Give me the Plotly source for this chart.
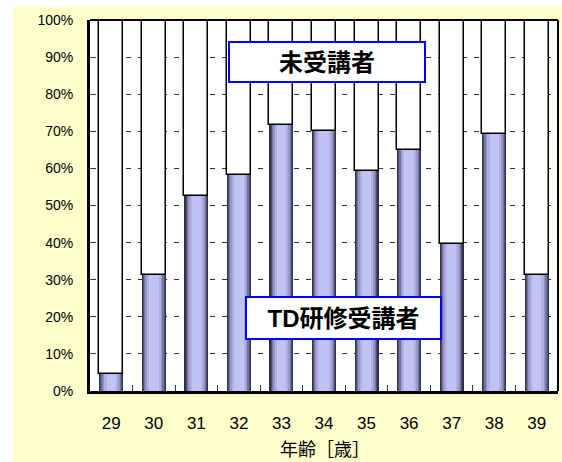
import plotly.graph_objects as go

ages = ["29", "30", "31", "32", "33", "34", "35", "36", "37", "38", "39"]
td_pct = [4.5, 31.3, 52.6, 58.3, 71.8, 70.0, 59.3, 65.0, 39.6, 69.2, 31.3]
untaken_pct = [100 - v for v in td_pct]
y_ticks = [0, 10, 20, 30, 40, 50, 60, 70, 80, 90, 100]
y_tick_labels = [f"{v}%" for v in y_ticks]
label_untaken = "未受講者"
label_td = "TD研修受講者"
x_title = "年齢［歳］"

FONT = "Liberation Sans, Arial, Noto Sans CJK JP, sans-serif"

fig = go.Figure()

# white (untaken) part
fig.add_trace(go.Bar(x=ages, y=untaken_pct, base=td_pct, width=0.565,
                     marker=dict(color="white", line=dict(color="black", width=1.5)),
                     showlegend=False, hoverinfo="skip"))

# TD part: layered to imitate cylinder shading
layers = [(0.565, "#2e2e44"), (0.51, "#505070"), (0.46, "#7474a0"),
          (0.40, "#9898c8"), (0.32, "#b0b0e2"), (0.22, "#c2c2f4")]
for w, c in layers:
    fig.add_trace(go.Bar(x=ages, y=td_pct, base=0, width=w,
                         marker=dict(color=c, line=dict(width=0)),
                         showlegend=False, hoverinfo="skip"))

L, R, T, B = 90, 4, 20, 71
W, H = 562, 462
pw, ph = W - L - R, H - T - B

def px_x(px):
    return (px - L) / pw

def px_y(py):
    return (H - B - py) / ph

shapes = [
    dict(type="rect", xref="paper", yref="paper", x0=px_x(13), x1=px_x(563),
         y0=px_y(463), y1=px_y(6), fillcolor="#FFFFCC", line=dict(width=0), layer="below"),
    dict(type="rect", xref="paper", yref="paper", x0=0, x1=1, y0=0, y1=1,
         fillcolor="white", line=dict(width=0), layer="below"),
    dict(type="line", xref="paper", yref="paper", x0=0, x1=1, y0=1, y1=1,
         line=dict(color="black", width=2)),
    dict(type="line", xref="paper", yref="paper", x0=1, x1=1, y0=0, y1=1,
         line=dict(color="black", width=2)),
]

annotations = [
    dict(text="<b>" + label_untaken + "</b>", xref="paper", yref="y",
         x=px_x(327), y=88.7, showarrow=False, width=194, height=38,
         bgcolor="white", bordercolor="#0000FF", borderwidth=2, borderpad=0,
         font=dict(family=FONT, size=24, color="black")),
    dict(text="<b>" + label_td + "</b>", xref="paper", yref="y",
         x=px_x(343.5), y=19.7, showarrow=False, width=193, height=40,
         bgcolor="white", bordercolor="#0000FF", borderwidth=2, borderpad=0,
         font=dict(family=FONT, size=24, color="black")),
    dict(text=x_title, xref="paper", yref="paper", x=px_x(325), y=px_y(450),
         xanchor="center", yanchor="middle",
         showarrow=False, font=dict(family=FONT, size=18, color="black")),
]

fig.update_layout(
    width=W, height=H,
    margin=dict(l=L, r=R, t=T, b=B),
    paper_bgcolor="white", plot_bgcolor="white",
    barmode="overlay", bargap=0,
    shapes=shapes, annotations=annotations,
    font=dict(family=FONT, color="black"),
)
fig.update_xaxes(type="category", tickson="boundaries", ticks="inside", ticklen=6,
                 tickcolor="#333", showgrid=False, showline=True, linecolor="black",
                 linewidth=3, tickfont=dict(size=17, family=FONT),
                 ticklabelstandoff=15, range=[-0.5, 10.5])
fig.update_yaxes(range=[0, 100], tickmode="array", tickvals=y_ticks,
                 ticktext=y_tick_labels, ticks="inside",
                 ticklen=6, tickcolor="#333", showgrid=True, gridcolor="#333",
                 gridwidth=1, griddash="5px,7px", showline=True, linecolor="black",
                 linewidth=3, zeroline=False, tickfont=dict(size=14, family=FONT),
                 ticklabelstandoff=11)

fig.write_html("out.html")
